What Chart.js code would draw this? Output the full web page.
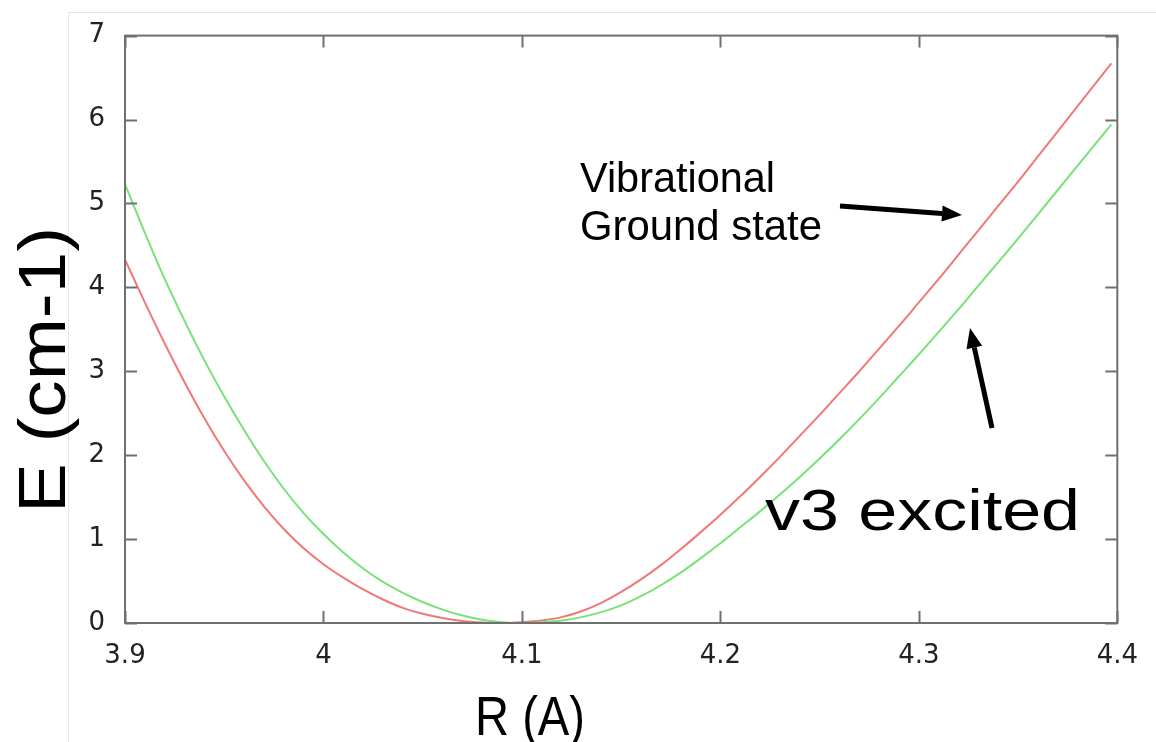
<!DOCTYPE html>
<html>
<head>
<meta charset="utf-8">
<script src="https://cdn.jsdelivr.net/npm/chart.js@4.4.1/dist/chart.umd.min.js"></script>
<style>
  html, body { margin: 0; padding: 0; background: #fff; }
  canvas { display: block; }
</style>
</head>
<body>
<canvas id="chartPes" width="1156" height="742"></canvas>
<script>
// --- data ---
const rValues = [3.90, 3.91, 3.92, 3.93, 3.94, 3.95, 3.96, 3.97, 3.98, 3.99,
                 4.00, 4.01, 4.02, 4.03, 4.04, 4.05, 4.06, 4.07, 4.08, 4.09,
                 4.10, 4.11, 4.12, 4.13, 4.14, 4.15, 4.16, 4.17, 4.18, 4.19,
                 4.20, 4.21, 4.22, 4.23, 4.24, 4.25, 4.26, 4.27, 4.28, 4.29,
                 4.30, 4.31, 4.32, 4.33, 4.34, 4.35, 4.36, 4.37, 4.38, 4.39, 4.397];

// vibrational ground state (red)
const groundE = [4.33, 3.82, 3.33, 2.87, 2.44, 2.05, 1.70, 1.39, 1.12, 0.89,
                 0.70, 0.54, 0.40, 0.28, 0.18, 0.11, 0.06, 0.025, 0.007, 0.00,
                 0.01, 0.03, 0.07, 0.14, 0.24, 0.37, 0.52, 0.69, 0.88, 1.08,
                 1.29, 1.51, 1.74, 1.98, 2.23, 2.48, 2.74, 3.00, 3.27, 3.54,
                 3.82, 4.10, 4.39, 4.68, 4.97, 5.26, 5.56, 5.86, 6.16, 6.46, 6.67];

// v3 excited (green)
const excitedE = [5.23, 4.65, 4.10, 3.60, 3.13, 2.70, 2.30, 1.93, 1.60, 1.31,
                  1.06, 0.84, 0.65, 0.49, 0.36, 0.25, 0.16, 0.09, 0.04, 0.01,
                  0.00, 0.01, 0.03, 0.07, 0.13, 0.21, 0.32, 0.45, 0.60, 0.77,
                  0.95, 1.14, 1.33, 1.53, 1.74, 1.96, 2.19, 2.43, 2.68, 2.94,
                  3.20, 3.47, 3.74, 4.02, 4.30, 4.58, 4.87, 5.16, 5.45, 5.74, 5.94];

const xTicks = [3.9, 4.0, 4.1, 4.2, 4.3, 4.4];
const xTickLabels = ['3.9', '4', '4.1', '4.2', '4.3', '4.4'];
const yTicks = [0, 1, 2, 3, 4, 5, 6, 7];
const yTickLabels = ['0', '1', '2', '3', '4', '5', '6', '7'];

const AXIS_COLOR = '#707070';

// text drawn squeezed/stretched to the width it has in the picture
function fitText(ctx, text, x, y, size, width, align) {
    ctx.save();
    ctx.font = size + 'px "Liberation Sans", Arial, sans-serif';
    const w = ctx.measureText(text).width;
    const sx = width / w;
    ctx.translate(x, y);
    ctx.scale(sx, 1);
    ctx.textAlign = align || 'left';
    ctx.textBaseline = 'alphabetic';
    ctx.fillStyle = '#000';
    ctx.fillText(text, 0, 0);
    ctx.restore();
}

function arrow(ctx, x0, y0, x1, y1) {
    const ang = Math.atan2(y1 - y0, x1 - x0);
    const head = 20, half = 8;
    const bx = x1 - head * Math.cos(ang), by = y1 - head * Math.sin(ang);
    ctx.save();
    ctx.strokeStyle = '#000';
    ctx.fillStyle = '#000';
    ctx.lineWidth = 5;
    ctx.beginPath();
    ctx.moveTo(x0, y0);
    ctx.lineTo(bx, by);
    ctx.stroke();
    ctx.beginPath();
    ctx.moveTo(x1, y1);
    ctx.lineTo(bx + half * Math.sin(ang), by - half * Math.cos(ang));
    ctx.lineTo(bx - half * Math.sin(ang), by + half * Math.cos(ang));
    ctx.closePath();
    ctx.fill();
    ctx.restore();
}

// frame, inner ticks, axis titles and the annotations
const decorPlugin = {
    id: 'decor',
    beforeDraw(chart) {
        const ctx = chart.ctx;
        ctx.save();
        ctx.fillStyle = '#fff';
        ctx.fillRect(0, 0, chart.width, chart.height);
        ctx.strokeStyle = '#e6e6e6';
        ctx.lineWidth = 1;
        ctx.beginPath();
        ctx.moveTo(68.5, chart.height);
        ctx.lineTo(68.5, 12.5);
        ctx.lineTo(chart.width, 12.5);
        ctx.stroke();
        ctx.restore();
    },
    afterDatasetsDraw(chart) {
        const ctx = chart.ctx;
        const a = chart.chartArea;
        const xs = chart.scales.x, ys = chart.scales.y;
        ctx.save();
        ctx.strokeStyle = AXIS_COLOR;
        ctx.lineWidth = 2;
        ctx.strokeRect(a.left, a.top, a.right - a.left, a.bottom - a.top);
        ctx.beginPath();
        xs.ticks.forEach(t => {
            const px = Math.round(xs.getPixelForValue(t.value)) + 0.5;
            ctx.moveTo(px, a.bottom); ctx.lineTo(px, a.bottom - 12);
            ctx.moveTo(px, a.top); ctx.lineTo(px, a.top + 12);
        });
        ys.ticks.forEach(t => {
            const py = Math.round(ys.getPixelForValue(t.value)) + 0.5;
            ctx.moveTo(a.left, py); ctx.lineTo(a.left + 12, py);
            ctx.moveTo(a.right, py); ctx.lineTo(a.right - 12, py);
        });
        ctx.stroke();
        ctx.restore();

        // axis titles
        fitText(ctx, 'R (A)', 530, 735, 55, 110, 'center');
        ctx.save();
        ctx.translate(65, 370);
        ctx.rotate(-Math.PI / 2);
        fitText(ctx, 'E (cm-1)', 0, 0, 66, 286, 'center');
        ctx.restore();

        // annotations
        fitText(ctx, 'Vibrational', 580, 192, 42, 195);
        fitText(ctx, 'Ground state', 580, 240, 42, 242);
        fitText(ctx, 'v3 excited', 765, 530, 58, 315);
        arrow(ctx, 840, 206, 962, 215);
        arrow(ctx, 992, 428, 970, 328);
    }
};

const ctx = document.getElementById('chartPes').getContext('2d');
new Chart(ctx, {
    type: 'line',
    data: {
        datasets: [
            {
                label: 'v3 excited',
                data: rValues.map((r, i) => ({ x: r, y: excitedE[i] })),
                borderColor: '#78e278',
                borderWidth: 2,
                pointRadius: 0,
                cubicInterpolationMode: 'monotone',
                fill: false
            },
            {
                label: 'Vibrational Ground state',
                data: rValues.map((r, i) => ({ x: r, y: groundE[i] })),
                borderColor: '#f07878',
                borderWidth: 2,
                pointRadius: 0,
                cubicInterpolationMode: 'monotone',
                fill: false
            }
        ]
    },
    options: {
        responsive: false,
        animation: false,
        layout: { padding: { left: 0, top: 33, right: 29, bottom: 0 } },
        plugins: {
            legend: { display: false },
            tooltip: { enabled: false }
        },
        scales: {
            x: {
                type: 'linear',
                min: 3.9,
                max: 4.4,
                afterBuildTicks: s => { s.ticks = xTicks.map(v => ({ value: v })); },
                afterFit: s => { s.height = 119; },
                grid: { display: false, drawTicks: false },
                border: { display: false },
                ticks: {
                    padding: 18,
                    color: '#222',
                    font: { family: '"DejaVu Sans"', size: 26 },
                    maxRotation: 0,
                    callback: (v, i) => xTickLabels[i]
                }
            },
            y: {
                min: 0,
                max: 7,
                afterBuildTicks: s => { s.ticks = yTicks.map(v => ({ value: v })); },
                afterFit: s => { s.width = 125; },
                grid: { display: false, drawTicks: false },
                border: { display: false },
                ticks: {
                    padding: 20,
                    color: '#222',
                    font: { family: '"DejaVu Sans"', size: 26 },
                    callback: (v, i) => yTickLabels[i]
                }
            }
        }
    },
    plugins: [decorPlugin]
});
</script>
</body>
</html>
